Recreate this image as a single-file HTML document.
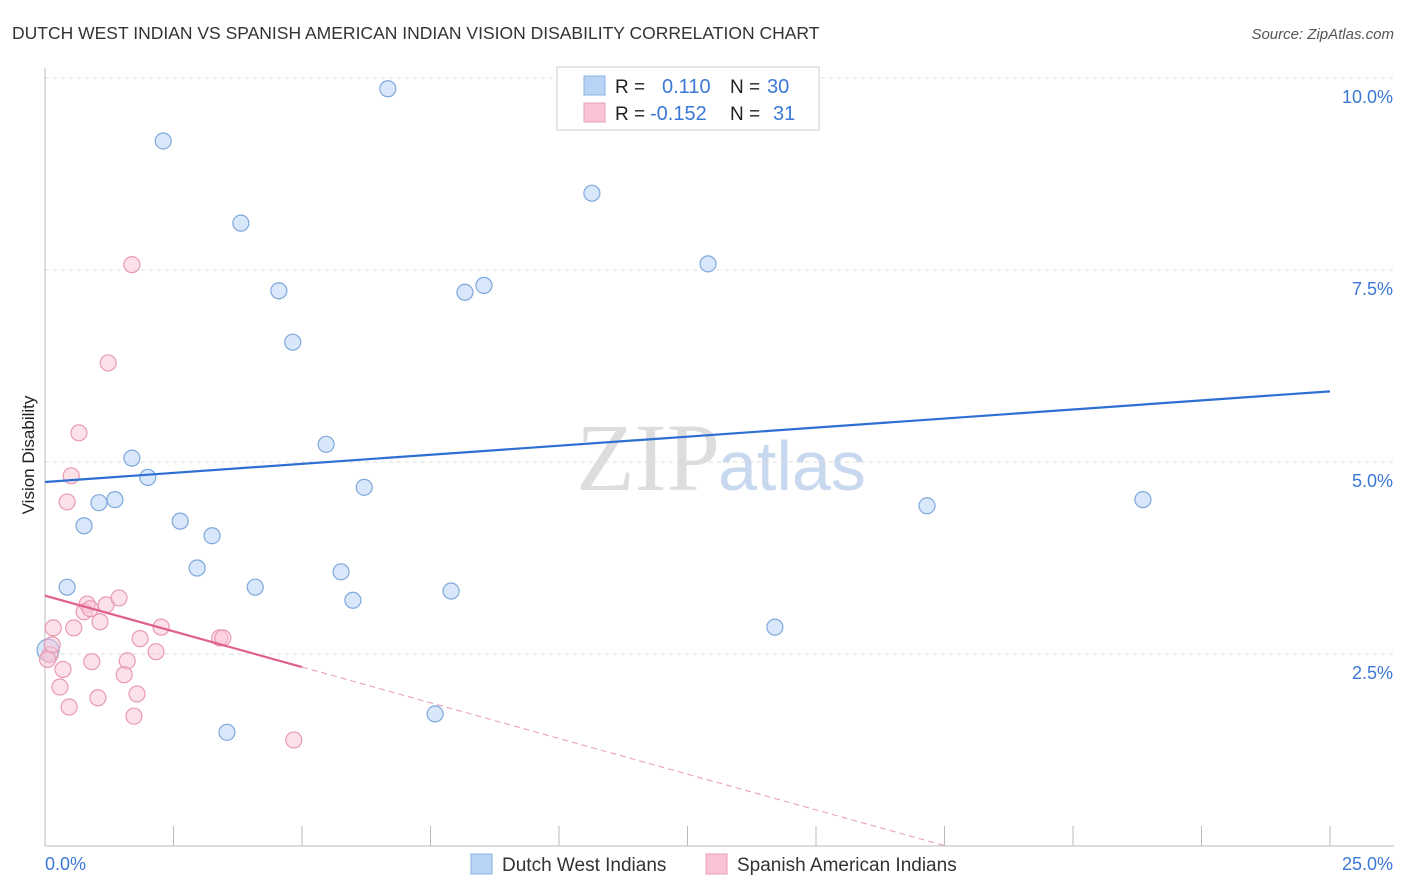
<!DOCTYPE html>
<html><head><meta charset="utf-8">
<style>
body{margin:0;background:#fff;font-family:"Liberation Sans",sans-serif;}
svg{display:block}
</style></head>
<body>
<svg id="chart" width="1406" height="892" xmlns="http://www.w3.org/2000/svg">
<text x="12" y="39" font-size="17.5" fill="#333">DUTCH WEST INDIAN VS SPANISH AMERICAN INDIAN VISION DISABILITY CORRELATION CHART</text>
<text x="1394" y="39" font-size="15" fill="#555" font-style="italic" text-anchor="end">Source: ZipAtlas.com</text>
<text x="720" y="490" font-size="96" font-family="Liberation Serif,serif" fill="#ddd" text-anchor="end">ZIP</text>
<text x="718" y="490" font-size="70" fill="#c8d8ee">atlas</text>
<text transform="translate(34,455) rotate(-90)" font-size="17" fill="#222" text-anchor="middle">Vision Disability</text>
<g id="grid"></g>
<g id="axes"></g>
<g id="marks"></g>
<g>
<rect x="557" y="67" width="262" height="63" fill="#fff" stroke="#ccc"/>
<rect x="584" y="76" width="21" height="19" fill="#b8d3f5" stroke="#8ab0e0"/>
<rect x="584" y="103" width="21" height="19" fill="#f9c4d4" stroke="#eaa0b8"/>
<text x="615" y="93" font-size="19" fill="#222">R = </text><text x="662" y="93" font-size="20" fill="#3b78d6">0.110</text>
<text x="730" y="93" font-size="19" fill="#222">N = </text><text x="767" y="93" font-size="20" fill="#3b78d6">30</text>
<text x="615" y="120" font-size="19" fill="#222">R = </text><text x="650" y="120" font-size="20" fill="#3b78d6">-0.152</text>
<text x="730" y="120" font-size="19" fill="#222">N = </text><text x="773" y="120" font-size="20" fill="#3b78d6">31</text>
</g>
<g>
<rect x="471" y="854" width="21" height="20" fill="#b8d3f5" stroke="#8ab0e0"/>
<text x="502" y="871" font-size="19" fill="#333">Dutch West Indians</text>
<rect x="706" y="854" width="21" height="20" fill="#f9c4d4" stroke="#eaa0b8"/>
<text x="737" y="871" font-size="19" fill="#333">Spanish American Indians</text>
</g>
</svg>
<script>
const xTicks=[0,2.5,5,7.5,10,12.5,15,17.5,20,22.5,25];
const yTicks=[2.5,5,7.5,10];
const yTickLabels=["2.5%","5.0%","7.5%","10.0%"];
const blueX=[6.67,2.30,10.64,3.81,12.90,4.55,8.17,8.54,4.82,5.47,1.69,2.00,6.21,1.05,1.36,0.76,2.63,3.25,17.16,21.36,2.96,0.43,4.09,5.76,5.99,7.90,14.20,7.59,3.54,0.06];
const blueY=[9.86,9.18,8.50,8.11,7.58,7.23,7.21,7.30,6.56,5.23,5.05,4.80,4.67,4.47,4.51,4.17,4.23,4.04,4.43,4.51,3.62,3.37,3.37,3.57,3.20,3.32,2.85,1.72,1.48,2.55];
const pinkX=[1.69,1.23,0.66,0.51,0.43,0.16,0.56,0.82,0.76,0.88,1.19,1.44,1.07,1.85,2.26,2.16,3.40,3.46,1.60,0.91,1.54,0.35,0.29,1.79,1.03,0.47,1.73,4.84,0.10,0.14,0.05];
const pinkY=[7.57,6.29,5.38,4.82,4.48,2.84,2.84,3.15,3.05,3.09,3.14,3.23,2.92,2.70,2.85,2.53,2.71,2.71,2.41,2.40,2.23,2.30,2.07,1.98,1.93,1.81,1.69,1.38,2.49,2.62,2.43];
const blueTrend=[4.74,5.92];
const pinkTrend=[3.26,-0.186];
const NS="http://www.w3.org/2000/svg";
const X=v=>45+v*51.4, Y=v=>846-v*76.8;
function mk(t,a,p){const e=document.createElementNS(NS,t);for(const k in a)e.setAttribute(k,a[k]);p.appendChild(e);return e;}
const grid=document.getElementById('grid'),axes=document.getElementById('axes'),marks=document.getElementById('marks');
yTicks.forEach((v,i)=>{
 const l=mk('line',{x1:45,x2:1394,y1:Y(v),y2:Y(v),stroke:'#ddd','stroke-dasharray':'4,4'},grid);
 
 
 const t=mk('text',{x:1393,y:Y(v)+25,'font-size':18,fill:'#3b78d6','text-anchor':'end'},axes);
 t.textContent=yTickLabels[i];
 
 
});
mk('line',{x1:45,x2:45,y1:68,y2:846,stroke:'#bbb'},axes);
mk('line',{x1:45,x2:1394,y1:846,y2:846,stroke:'#bbb'},axes);
xTicks.forEach(v=>{
 const l=mk('line',{x1:X(v),x2:X(v),y1:826,y2:846,stroke:'#bbb'},axes);
 
 
});
const xl0=mk('text',{x:45,y:870,'font-size':18,fill:'#3b78d6'},axes);xl0.textContent='0.0%';


const xl1=mk('text',{x:1393,y:870,'font-size':18,fill:'#3b78d6','text-anchor':'end'},axes);xl1.textContent='25.0%';


blueX.forEach((x,i)=>{
 const c=mk('circle',{cx:X(x),cy:Y(blueY[i]),r:i==blueX.length-1?11:8,fill:'rgba(184,211,245,0.55)',stroke:'#7fa8dc','stroke-width':1.2},marks);
 
 
});
pinkX.forEach((x,i)=>{
 const c=mk('circle',{cx:X(x),cy:Y(pinkY[i]),r:8,fill:'rgba(249,196,212,0.5)',stroke:'#e89ab3','stroke-width':1.2},marks);
 
 
});
const bt=mk('line',{x1:X(0),y1:Y(blueTrend[0]),x2:X(25),y2:Y(blueTrend[1]),stroke:'#2d6fd2','stroke-width':2.2},marks);


const pf=v=>pinkTrend[0]+pinkTrend[1]*v;
const ps=mk('line',{x1:X(0),y1:Y(pf(0)),x2:X(5),y2:Y(pf(5)),stroke:'#e0608c','stroke-width':2.2},marks);


const pd=mk('line',{x1:X(5),y1:Y(pf(5)),x2:X(17.5),y2:Y(pf(17.5)),stroke:'#e89ab3','stroke-width':1,'stroke-dasharray':'6,4'},marks);


</script>
</body></html>
